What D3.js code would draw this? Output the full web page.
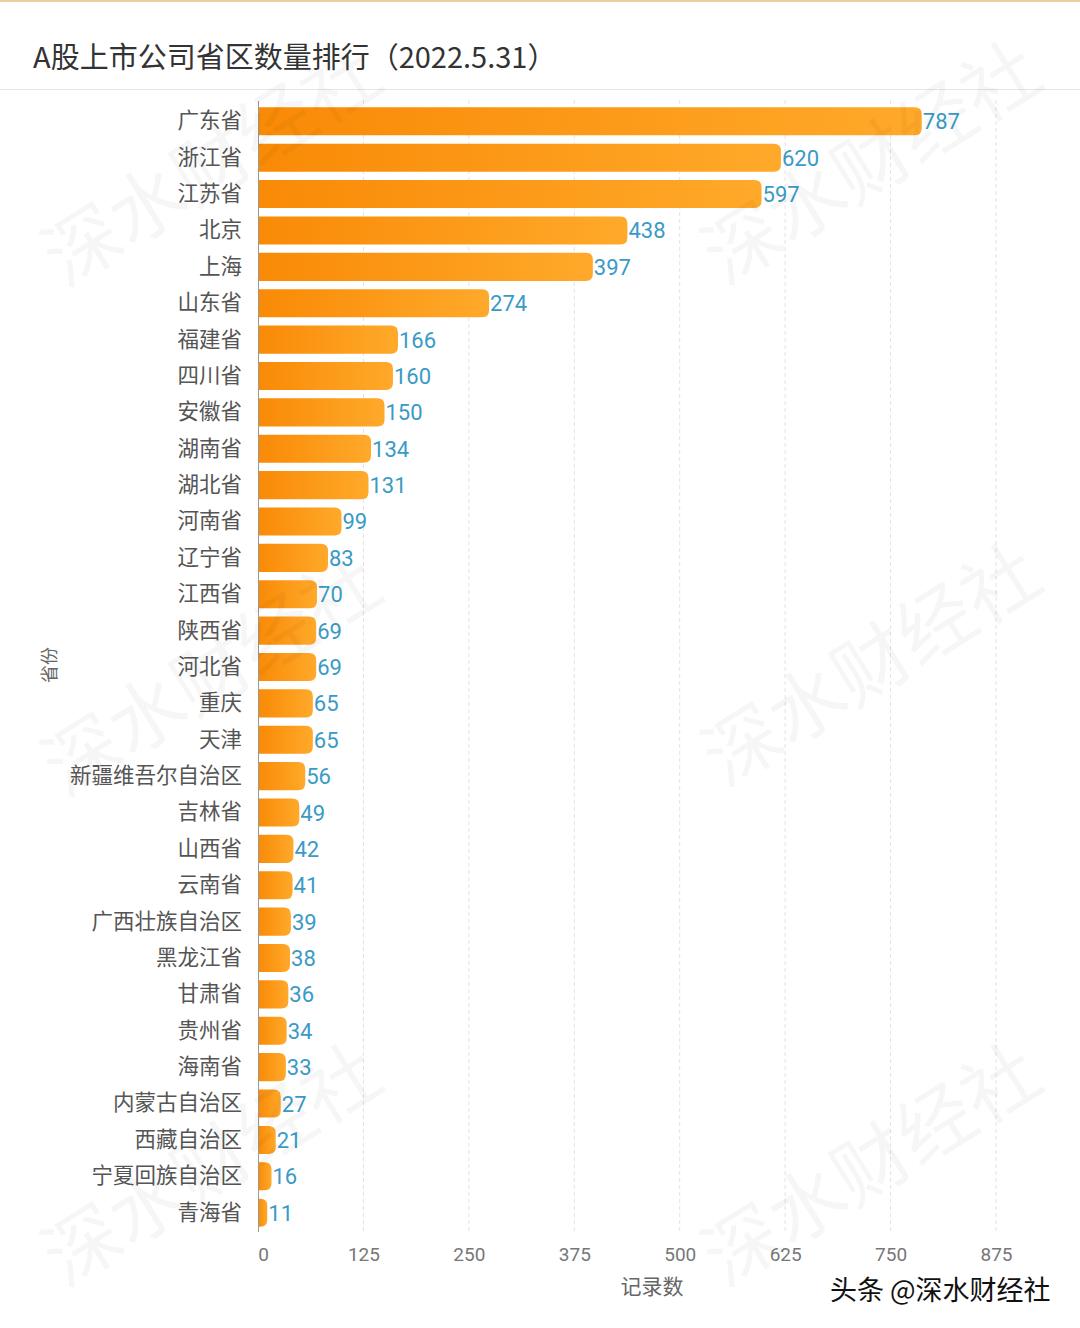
<!DOCTYPE html>
<html><head><meta charset="utf-8">
<script src="https://cdn.jsdelivr.net/npm/d3@7"></script>
<style>
html,body{margin:0;padding:0;background:#fff;}
svg{display:block;}
</style></head>
<body>
<script>
// data
const provinces = ["广东省","浙江省","江苏省","北京","上海","山东省","福建省","四川省","安徽省","湖南省","湖北省","河南省","辽宁省","江西省","陕西省","河北省","重庆","天津","新疆维吾尔自治区","吉林省","山西省","云南省","广西壮族自治区","黑龙江省","甘肃省","贵州省","海南省","内蒙古自治区","西藏自治区","宁夏回族自治区","青海省"];
const counts = [787,620,597,438,397,274,166,160,150,134,131,99,83,70,69,69,65,65,56,49,42,41,39,38,36,34,33,27,21,16,11];
const xTicks = [0,125,250,375,500,625,750,875];
const titleText = "A股上市公司省区数量排行（2022.5.31）";
const xAxisTitle = "记录数";
const yAxisTitle = "省份";
const footerText = "头条 @深水财经社";
const watermarkText = "深水财经社";

const W = 1080, H = 1328;
const svg = d3.select("body").append("svg").attr("width", W).attr("height", H);
const cjk = "'Noto Sans CJK SC','Noto Sans',sans-serif";
const num = "Roboto,'Noto Sans',sans-serif";

// top border & title
svg.append("rect").attr("x",0).attr("y",0).attr("width",W).attr("height",2).attr("fill","#e9cf9c");
svg.append("text").attr("x",33).attr("y",68).text(titleText)
  .attr("font-family",cjk).attr("font-size",29).attr("fill","#333");
svg.append("line").attr("x1",0).attr("x2",W).attr("y1",89.5).attr("y2",89.5).attr("stroke","#e6e6e6");

const data = provinces.map((p,i)=>({name:p, value:counts[i]}));

const x = d3.scaleLinear().domain([0,875]).range([258,996]);
const y = d3.scaleBand().domain(provinces).range([103,1231]).paddingInner(0.23).paddingOuter(0.12);

// gradient
const defs = svg.append("defs");
const g = defs.append("linearGradient").attr("id","barGrad").attr("x1","0%").attr("x2","100%").attr("y1","0%").attr("y2","0%");
g.append("stop").attr("offset","0%").attr("stop-color","#f98a06");
g.append("stop").attr("offset","100%").attr("stop-color","#ffa92a");

// grid lines
svg.append("g").selectAll("line").data(xTicks.slice(1)).join("line")
  .attr("x1",d=>x(d)).attr("x2",d=>x(d)).attr("y1",100).attr("y2",1232)
  .attr("stroke","#e2e2e2").attr("stroke-dasharray","4,3").attr("stroke-width",1);

// bars with right rounded corners
const r = 7;
svg.append("g").selectAll("path").data(data).join("path")
  .attr("d", d=>{
    const x0 = x(0), x1 = x(d.value), y0 = y(d.name), h = y.bandwidth();
    const rr = Math.min(r, (x1-x0), h/2);
    return `M${x0},${y0}H${x1-rr}Q${x1},${y0} ${x1},${y0+rr}V${y0+h-rr}Q${x1},${y0+h} ${x1-rr},${y0+h}H${x0}Z`;
  })
  .attr("fill","url(#barGrad)");

// value labels
svg.append("g").selectAll("text").data(data).join("text")
  .attr("x", d=>x(d.value)+1).attr("y", d=>y(d.name)+y.bandwidth()/2+8)
  .text(d=>d.value).attr("font-family",num).attr("font-size",22).attr("fill","#3a9ac6");

// y axis
const yAxis = svg.append("g").attr("transform",`translate(${x(0)},0)`)
  .call(d3.axisLeft(y).tickSize(0).tickPadding(16));
yAxis.select(".domain").attr("stroke","#999").attr("d","M0.5,101V1232");
yAxis.selectAll("text").attr("font-family",cjk).attr("font-size",21.5).attr("fill","#555");

// x axis
const xAxis = svg.append("g").attr("transform","translate(0,1232)")
  .call(d3.axisBottom(x).tickValues(xTicks).tickSize(0).tickPadding(16));
xAxis.select(".domain").remove();
xAxis.selectAll("text").attr("font-family",num).attr("font-size",19).attr("fill","#777")
  .attr("transform",d=>d===0?"translate(5,0)":null);

// axis titles
svg.append("text").attr("x",652).attr("y",1294).attr("text-anchor","middle").text(xAxisTitle)
  .attr("font-family",cjk).attr("font-size",21).attr("fill","#666");
svg.append("text").attr("transform","translate(56,665) rotate(-90)").attr("text-anchor","middle").text(yAxisTitle)
  .attr("font-family",cjk).attr("font-size",18).attr("fill","#666");

// watermarks
const wmPos = [[215,170],[875,168],[215,680],[875,670],[215,1170],[875,1170]];
svg.append("g").selectAll("text").data(wmPos).join("text")
  .attr("transform",d=>`translate(${d[0]},${d[1]}) rotate(-32)`)
  .attr("text-anchor","middle").attr("dominant-baseline","middle")
  .text(watermarkText).attr("font-family",cjk).attr("font-size",76)
  .attr("fill","#000").attr("fill-opacity",0.035);

// footer
svg.append("text").attr("x",830).attr("y",1300).text(footerText)
  .attr("font-family",cjk).attr("font-size",27).attr("fill","#111")
  .attr("stroke","#fff").attr("stroke-width",3).attr("paint-order","stroke");
</script>
</body></html>
